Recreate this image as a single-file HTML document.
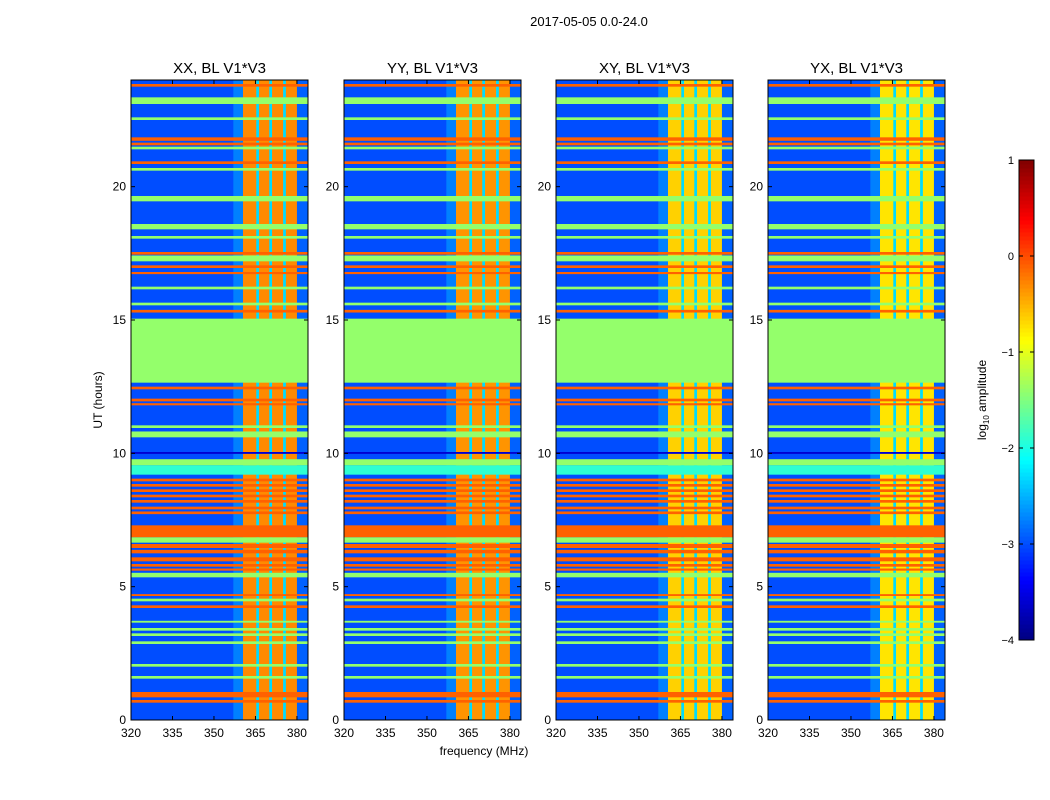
<!DOCTYPE html>
<html><head><meta charset="utf-8"><style>
body{margin:0;background:#fff;}
svg{display:block;font-family:"Liberation Sans",sans-serif;}
</style></head><body>
<svg id="chart" width="1050" height="800" viewBox="0 0 1050 800">
<rect width="1050" height="800" fill="#fff"/>
<text x="589" y="26" font-size="13" text-anchor="middle">2017-05-05 0.0-24.0</text>
<text x="484" y="755" font-size="12" text-anchor="middle">frequency (MHz)</text>
<text transform="translate(102,400) rotate(-90)" font-size="12" text-anchor="middle">UT (hours)</text>
<g id="panels"></g>
<g id="cbar"></g>
</svg>
<script>
// ---- data ----
const panelTitles = ["XX, BL V1*V3","YY, BL V1*V3","XY, BL V1*V3","YX, BL V1*V3"];
const panelLeft = [131,344,556,768];
const freqEdges = [320,357,360.5,365.3,366.3,370,371,375,376,380,384];
const freqLevel = [-3.0,-2.75,0,-2.3,0,-2.3,0,-2.3,0,-2.9];
const freqIsBand = [0,0,1,0,1,0,1,0,1,0];
const bandLevel = [-0.3,-0.35,-0.65,-0.75];
const FLAG=-1.4, RFI=-0.1;
const featStart = [23.75,23.1,22.5,21.72,21.55,21.4,20.85,20.6,19.45,18.4,18.05,17.45,17.2,16.95,16.72,16.15,15.55,15.28,12.65,12.4,11.95,11.8,10.95,10.6,9.98,9.55,9.2,8.95,8.75,8.55,8.35,8.15,7.9,7.72,6.85,6.65,6.45,6.25,5.95,5.75,5.6,5.35,4.65,4.45,4.2,3.65,3.35,3.15,2.85,2.0,1.55,0.85,0.65];
const featEnd   = [23.85,23.35,22.6,21.85,21.65,21.5,20.95,20.7,19.65,18.6,18.15,17.55,17.42,17.05,16.8,16.25,15.65,15.38,15.05,12.5,12.05,11.88,11.05,10.82,10.05,9.78,9.55,9.05,8.85,8.65,8.45,8.25,8.0,7.82,7.3,6.85,6.6,6.38,6.1,5.85,5.68,5.52,4.72,4.55,4.3,3.72,3.45,3.25,2.95,2.1,1.65,1.05,0.75];
const featKind  = ["r","g","g","r","r","g","r","g","g","g","g","r","g","r","r","g","g","r","g","r","r","r","g","g","d","g","c","r","r","r","r","r","r","r","r","g","r","r","r","r","r","g","r","g","r","g","g","g","g","g","g","r","r"];
const xTicks = [320,335,350,365,380];
const yTicks = [0,5,10,15,20];
const cbTicks = [1,0,-1,-2,-3,-4];

// ---- helpers ----
const NS="http://www.w3.org/2000/svg";
const VMIN=-4,VMAX=1, PW=177, PT=80, PB=720;
const kindLevel={r:RFI,g:FLAG,c:-1.9,d:-3.6};
function jet(v){let t=(v-VMIN)/(VMAX-VMIN);t=Math.max(0,Math.min(1,t));
 const c=x=>Math.round(255*Math.max(0,Math.min(1,x)));
 return `rgb(${c(1.5-Math.abs(4*t-3))},${c(1.5-Math.abs(4*t-2))},${c(1.5-Math.abs(4*t-1))})`;}
function mk(tag,attrs,parent){const e=document.createElementNS(NS,tag);for(const k in attrs)e.setAttribute(k,attrs[k]);parent.appendChild(e);return e;}
const xs=(f,x0)=>x0+(f-320)/(384-320)*PW;
const ys=h=>PB-h/24*(PB-PT);
const panels=document.getElementById('panels');

panelLeft.forEach((x0,p)=>{
 const g=mk('g',{},panels);
 
 
 for(let i=0;i<freqLevel.length;i++){
  const v=freqIsBand[i]?freqLevel[i]+bandLevel[p]:freqLevel[i];
  const r=mk('rect',{x:xs(freqEdges[i],x0),y:PT,width:xs(freqEdges[i+1],x0)-xs(freqEdges[i],x0)+0.3,height:PB-PT,fill:jet(v)},g);
  
  
 }
 for(let j=0;j<featStart.length;j++){
  const r=mk('rect',{x:x0,y:ys(featEnd[j]),width:PW,height:Math.max(1.5,ys(featStart[j])-ys(featEnd[j])),fill:jet(kindLevel[featKind[j]])},g);
  
  
 }
 const fr=mk('rect',{x:x0,y:PT,width:PW,height:PB-PT,fill:'none',stroke:'#000','stroke-width':1},g);
 
 
 const t=mk('text',{x:x0+PW/2,y:73,'font-size':15,'text-anchor':'middle'},g);t.textContent=panelTitles[p];
 
 
 xTicks.forEach(f=>{const x=xs(f,x0);
  mk('line',{x1:x,x2:x,y1:PB,y2:PB-4,stroke:'#000'},g);mk('line',{x1:x,x2:x,y1:PT,y2:PT+4,stroke:'#000'},g);
  const l=mk('text',{x:x,y:737,'font-size':12,'text-anchor':'middle'},g);l.textContent=f;
  
  });
 yTicks.forEach(h=>{const y=ys(h);
  mk('line',{x1:x0,x2:x0+4,y1:y,y2:y,stroke:'#000'},g);mk('line',{x1:x0+PW,x2:x0+PW-4,y1:y,y2:y,stroke:'#000'},g);
  const l=mk('text',{x:x0-5,y:y+4,'font-size':12,'text-anchor':'end'},g);l.textContent=h;
  
  });
});

const cb=document.getElementById('cbar');
const CX=1019,CW=15,CT=160,CB=640;
const cs=v=>CB-(v-VMIN)/(VMAX-VMIN)*(CB-CT);
for(let i=0;i<120;i++){const v0=VMIN+i*(VMAX-VMIN)/120,v1=v0+(VMAX-VMIN)/120;
 const r=mk('rect',{x:CX,y:cs(v1),width:CW,height:cs(v0)-cs(v1)+0.5,fill:jet((v0+v1)/2)},cb);
 
 }
const cf=mk('rect',{x:CX,y:CT,width:CW,height:CB-CT,fill:'none',stroke:'#000'},cb);


cbTicks.forEach(v=>{const y=cs(v);
 mk('line',{x1:CX,x2:CX+4,y1:y,y2:y,stroke:'#000'},cb);mk('line',{x1:CX+CW,x2:CX+CW-4,y1:y,y2:y,stroke:'#000'},cb);
 const l=mk('text',{x:CX-5,y:y+4,'font-size':11,'text-anchor':'end'},cb);l.textContent=v<0?'\u2212'+(-v):v;
 
 });
const cl=mk('text',{transform:'translate(986,400) rotate(-90)','font-size':12,'text-anchor':'middle'},cb);
cl.innerHTML='log<tspan font-size="8" dy="3">10</tspan><tspan dy="-3"> amplitude</tspan>';


</script>
</body></html>
